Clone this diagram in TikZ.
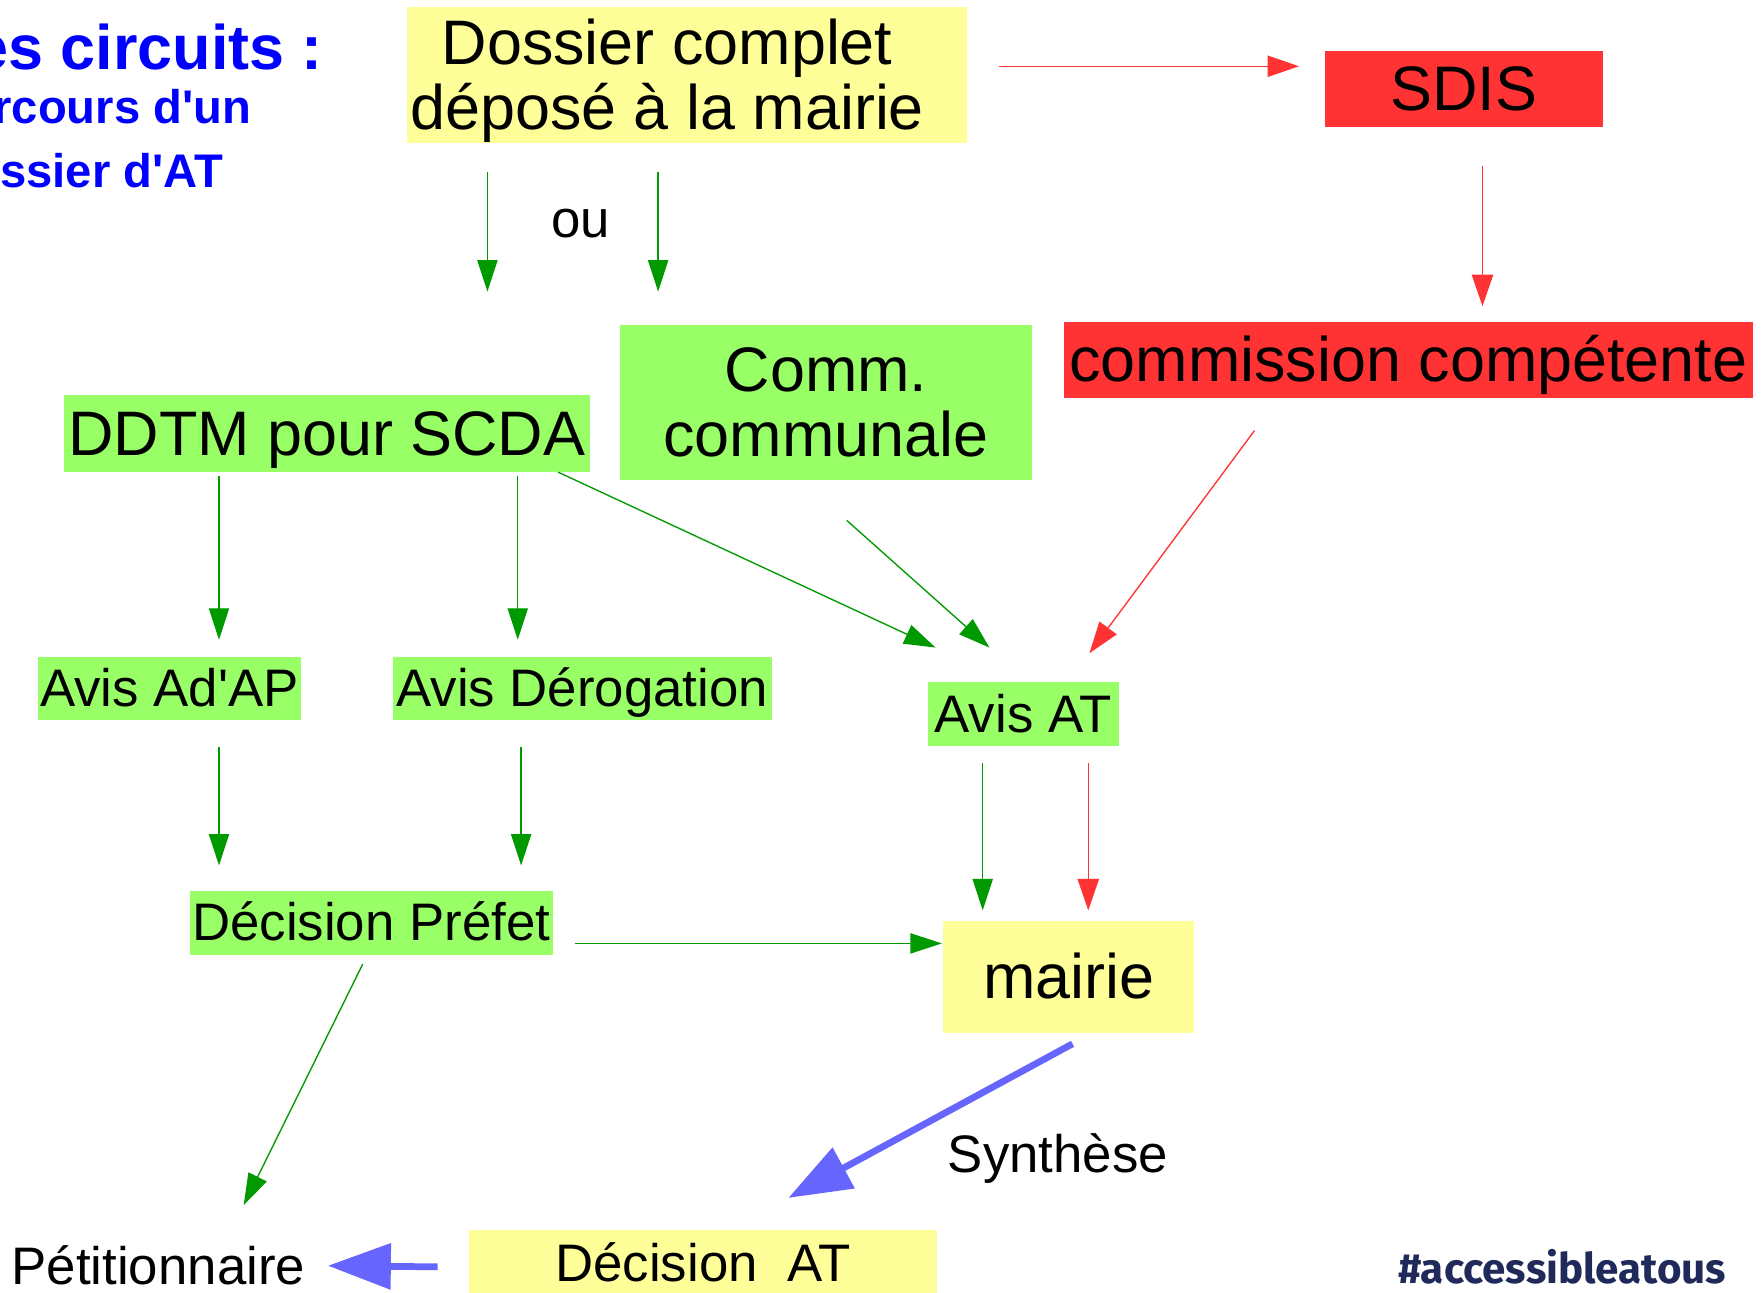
\documentclass[tikz,border=0pt]{standalone}
\usepackage{fontspec}
\usepackage{graphicx}
\setmainfont{Liberation Sans}
\newfontfamily\arial{Liberation Sans}
\newfontfamily\logofont{Fira Sans}
\usetikzlibrary{arrows.meta,calc}
\definecolor{yboxc}{HTML}{FFFF99}
\definecolor{gboxc}{HTML}{99FF66}
\definecolor{rboxc}{HTML}{FF3333}
\definecolor{garr}{HTML}{009900}
\definecolor{rarr}{HTML}{FF3333}
\definecolor{barr}{HTML}{6666FF}
\definecolor{titleblue}{HTML}{0000FF}
\definecolor{navyc}{HTML}{1F2A5A}
\begin{document}
\begin{tikzpicture}[x=0.5pt,y=-0.5pt,
  big/.style={font=\arial\fontsize{28}{29}\selectfont, inner sep=0pt, align=center, text height=25.34pt, text depth=5.94pt},
  bigtwo/.style={font=\arial\fontsize{28}{29}\selectfont, inner sep=0pt, align=center, text height=54.34pt, text depth=5.94pt},
  mid/.style={font=\arial\fontsize{23.5}{26}\selectfont, inner sep=0pt, text height=21.27pt, text depth=4.98pt},
  plain/.style={font=\arial\fontsize{23.5}{26}\selectfont, inner sep=0pt},
  ttl/.style={inner sep=0pt, anchor=base east, text=titleblue},
  yb/.style={fill=yboxc},
  gb/.style={fill=gboxc},
  rb/.style={fill=rboxc},
  garrow/.style={draw=garr, line width=0.6pt, -{Triangle[length=14pt,width=9pt]}},
  rarrow/.style={draw=rarr, line width=0.6pt, -{Triangle[length=14pt,width=9.5pt]}},
  barrow/.style={draw=barr, line width=3pt, -{Triangle[length=28pt,width=20pt]}}
]
\useasboundingbox (0,0) rectangle (1568,1151);
\fill[white] (0,0) rectangle (1568,1151);

% title
\node[ttl, font=\arial\bfseries\fontsize{28}{30}\selectfont] (t1) at (288,62) {es circuits :};
\node[ttl, font=\arial\bfseries\fontsize{21}{24}\selectfont] (t2) at (224,110) {rcours d'un};
\node[ttl, font=\arial\bfseries\fontsize{21}{24}\selectfont] (t3) at (199,167) {ssier d'AT};

% boxes
\node[yb, inner sep=0pt, minimum width=249.5pt, minimum height=60.5pt] (dossier) at (611.5,66.5) {};
\node[bigtwo] (dossiertxt) at (594,67) {Dossier complet\\déposé à la mairie};
\node[rb, big, minimum width=123.5pt, minimum height=34pt] (sdis) at (1303.5,79) {SDIS};
\node[rb, big, minimum width=307pt, minimum height=33.5pt] (commission) at (1254,320.5) {commission compétente};
\node[gb, bigtwo, minimum width=183.5pt, minimum height=69pt] (comm) at (735.5,358) {Comm.\\communale};
\node[gb, big, minimum width=234pt, minimum height=34pt] (ddtm) at (291,386) {DDTM pour SCDA};
\node[gb, mid, minimum width=117pt, minimum height=28pt] (adap) at (151,613) {Avis Ad'AP};
\node[gb, mid, minimum width=168.5pt, minimum height=28pt] (derog) at (518.5,613) {Avis Dérogation};
\node[gb, mid, minimum width=85pt, minimum height=28.5pt] (avisat) at (911,635.5) {Avis AT};
\node[gb, mid, minimum width=161.5pt, minimum height=28.5pt] (prefet) at (330.5,821.5) {Décision Préfet};
\node[yb, big, minimum width=111.5pt, minimum height=50pt] (mairie) at (951.5,870) {mairie};
\node[yb, mid, minimum width=208pt, minimum height=30pt] (decat) at (626,1125) {Décision\ \ AT};
\node[plain] (petit) at (141,1127) {Pétitionnaire};
\node[mid] (ou) at (517,195) {ou};
\node[mid] (synth) at (942,1028) {Synthèse};
\node[inner sep=0pt, text=navyc, font=\logofont\bfseries\upshape] (logo) at (1391,1128) {\resizebox{146pt}{!}{\#accessibleatous}};

% connectors
\draw[rarrow] ($(dossier.east)+(28,-7.5)$) -- ($(sdis.west)+(-23,-20)$);
\draw[rarrow] ($(sdis.south)+(16.5,34)$) -- ($(commission.north)+(66,-14)$);
\draw[garrow] ($(dossier.south)+(-177.5,26)$) -- ($(ddtm.north)+(143,-92)$);
\draw[garrow] ($(dossier.south)+(-25.5,26)$) -- ($(comm.north)+(-149.5,-29)$);
\draw[garrow] ($(ddtm.south)+(-96,3)$) -- ($(adap.north)+(44,-15)$);
\draw[garrow] ($(ddtm.south)+(170,3)$) -- ($(derog.north)+(-57.5,-15)$);
\draw[garrow] ($(ddtm.south)+(206,0)$) -- ($(avisat.north)+(-78,-30)$);
\draw[garrow] ($(comm.south)+(18.5,36)$) -- ($(avisat.north)+(-30,-30)$);
\draw[rarrow] ($(commission.south)+(-137,29)$) -- ($(avisat.north)+(59,-25)$);
\draw[garrow] ($(adap.south)+(44,24)$) -- ($(prefet.north)+(-135.5,-22)$);
\draw[garrow] ($(derog.south)+(-54.5,24)$) -- ($(prefet.north)+(133.5,-22)$);
\draw[garrow] ($(avisat.south)+(-36,15)$) -- ($(mairie.north)+(-76.5,-9)$);
\draw[rarrow] ($(avisat.south)+(58,15)$) -- ($(mairie.north)+(17.5,-9)$);
\draw[garrow] ($(prefet.east)+(20,18.5)$) -- ($(mairie.west)+(-1,-30)$);
\draw[garrow] ($(prefet.south)+(-7.5,8)$) -- ($(petit.center)+(76,-54)$);
\draw[barrow] ($(mairie.south)+(3.5,9)$) -- ($(decat.north)+(76,-28)$);
\draw[barrow] ($(decat.west)+(-28,3)$) -- ($(petit.center)+(151,0)$);
\end{tikzpicture}
\end{document}
